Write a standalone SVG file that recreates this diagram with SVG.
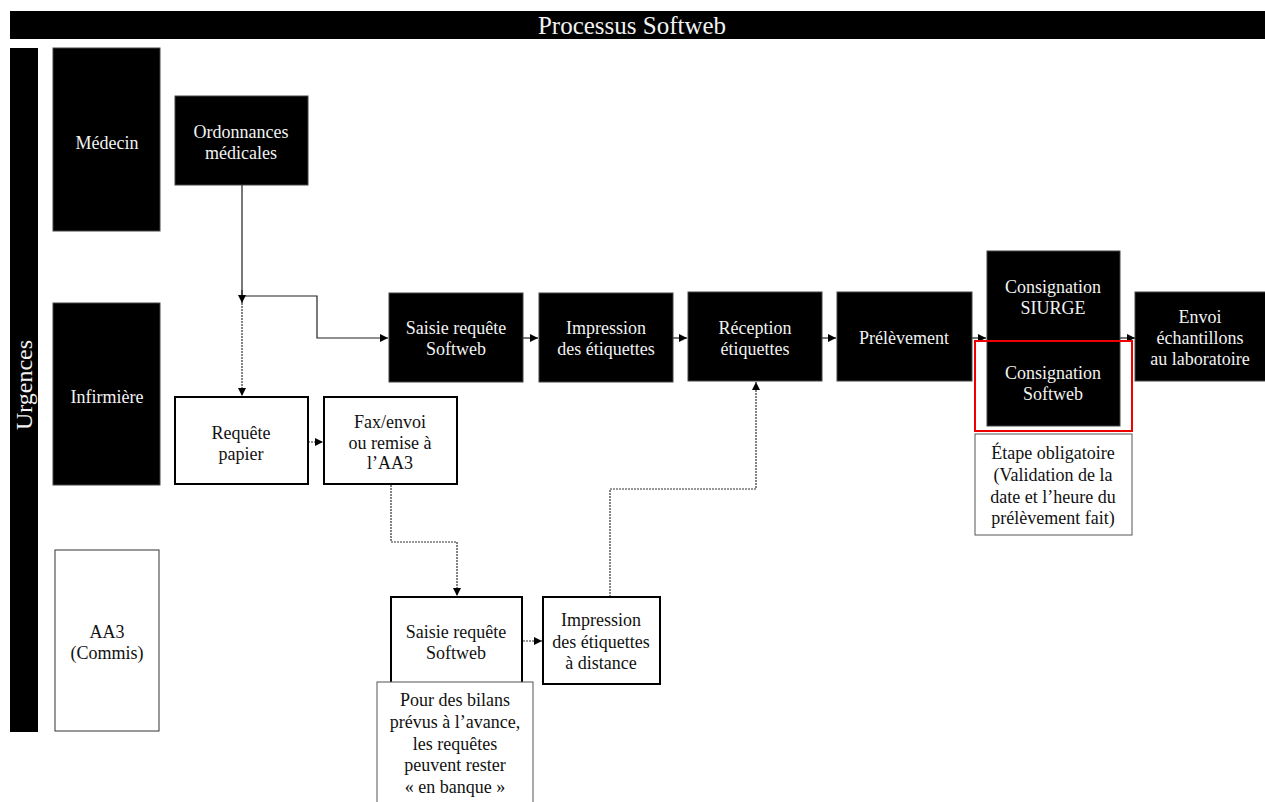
<svg xmlns="http://www.w3.org/2000/svg" width="1265" height="802" viewBox="0 0 1265 802" font-family="'Liberation Serif', 'Times New Roman', 'DejaVu Serif', serif">
<style>
text{font-family:'Liberation Serif','Times New Roman','DejaVu Serif',serif;font-size:18px;text-anchor:middle}
.w{fill:#f2f2f2}
.k{fill:#111}
.blk{fill:#000;stroke:#444;stroke-width:1}
.box{fill:#fff;stroke:#000;stroke-width:2}
.note{fill:#fff;stroke:#555;stroke-width:1}
.c{fill:none;stroke:#222;stroke-width:1.2}
.d{fill:none;stroke:#333;stroke-width:1.2;stroke-dasharray:2 1}
</style>
<defs>
<marker id="ah" markerUnits="userSpaceOnUse" markerWidth="9" markerHeight="9" refX="8" refY="4" orient="auto">
<path d="M0,0 L8,4 L0,8 z" fill="#000"/>
</marker>
</defs>
<rect width="1265" height="802" fill="#fff"/>
<g id="title">
<rect x="10" y="11" width="1255" height="28" fill="#000"/>
<text x="632" y="34" class="w" style="font-size:25px">Processus Softweb</text>
</g>
<g id="lane-urgences">
<rect x="10" y="48" width="28" height="684" fill="#000"/>
<text transform="translate(32,385) rotate(-90)" class="w" style="font-size:24px">Urgences</text>
</g>
<g id="lane-medecin">
<rect class="blk" x="53" y="48" width="107" height="183"/>
<text x="107" y="149" class="w">Médecin</text>
</g>
<g id="lane-infirmiere">
<rect class="blk" x="53" y="303" width="107" height="182"/>
<text x="107" y="403" class="w">Infirmière</text>
</g>
<g id="lane-aa3">
<rect x="55" y="550" width="104" height="181" fill="#fff" stroke="#333" stroke-width="1"/>
<text x="107" y="638" class="k">AA3</text>
<text x="107" y="659" class="k">(Commis)</text>
</g>
<g id="connectors">
<path class="c" d="M242,185 V296 H317 V338 H388" marker-end="url(#ah)"/>
<path class="c" d="M242,290 V303" marker-end="url(#ah)"/>
<path class="d" d="M242,303 V396" marker-end="url(#ah)"/>
<path class="c" d="M523,338 H538" marker-end="url(#ah)"/>
<path class="c" d="M673,338 H687" marker-end="url(#ah)"/>
<path class="c" d="M822,338 H836" marker-end="url(#ah)"/>
<path class="c" d="M972,338 H986" marker-end="url(#ah)"/>
<path class="c" d="M1120,338 H1135" marker-end="url(#ah)"/>
<path class="d" d="M308,442 H323" marker-end="url(#ah)"/>
<path class="d" d="M391,485 V542 H457 V596" marker-end="url(#ah)"/>
<path class="d" d="M523,641 H542" marker-end="url(#ah)"/>
<path class="d" d="M610,597 V489 H756 V382" marker-end="url(#ah)"/>
</g>
<g id="ordonnances">
<rect class="blk" x="175" y="96" width="133" height="89"/>
<text x="241" y="138" class="w">Ordonnances</text>
<text x="241" y="159" class="w">médicales</text>
</g>
<g id="saisie-softweb">
<rect class="blk" x="389" y="293" width="134" height="89"/>
<text x="456" y="334" class="w">Saisie requête</text>
<text x="456" y="355" class="w">Softweb</text>
</g>
<g id="impression-etiquettes">
<rect class="blk" x="539" y="293" width="134" height="89"/>
<text x="606" y="334" class="w">Impression</text>
<text x="606" y="355" class="w">des étiquettes</text>
</g>
<g id="reception-etiquettes">
<rect class="blk" x="688" y="292" width="134" height="89"/>
<text x="755" y="334" class="w">Réception</text>
<text x="755" y="355" class="w">étiquettes</text>
</g>
<g id="prelevement">
<rect class="blk" x="837" y="292" width="135" height="89"/>
<text x="904" y="344" class="w">Prélèvement</text>
</g>
<g id="consignation">
<rect class="blk" x="987" y="251" width="133" height="175"/>
<text x="1053" y="293" class="w">Consignation</text>
<text x="1053" y="314" class="w">SIURGE</text>
<text x="1053" y="379" class="w">Consignation</text>
<text x="1053" y="400" class="w">Softweb</text>
<rect x="975" y="341" width="157" height="90" fill="none" stroke="#e00" stroke-width="2"/>
</g>
<g id="etape-obligatoire">
<rect class="note" x="975" y="434" width="157" height="101"/>
<text x="1053" y="459" class="k">Étape obligatoire</text>
<text x="1053" y="481" class="k">(Validation de la</text>
<text x="1053" y="503" class="k">date et l’heure du</text>
<text x="1053" y="524" class="k">prélèvement fait)</text>
</g>
<g id="envoi">
<rect class="blk" x="1135" y="292" width="131" height="89"/>
<text x="1200" y="323" class="w">Envoi</text>
<text x="1200" y="344" class="w">échantillons</text>
<text x="1200" y="365" class="w">au laboratoire</text>
</g>
<g id="requete-papier">
<rect class="box" x="175" y="397" width="133" height="87"/>
<text x="241" y="439" class="k">Requête</text>
<text x="241" y="460" class="k">papier</text>
</g>
<g id="fax-envoi">
<rect class="box" x="324" y="397" width="133" height="87"/>
<text x="390" y="428" class="k">Fax/envoi</text>
<text x="390" y="449" class="k">ou remise à</text>
<text x="390" y="469" class="k">l’AA3</text>
</g>
<g id="saisie-softweb-aa3">
<rect class="box" x="391" y="597" width="131" height="88"/>
<text x="456" y="638" class="k">Saisie requête</text>
<text x="456" y="659" class="k">Softweb</text>
</g>
<g id="impression-distance">
<rect class="box" x="543" y="597" width="117" height="87"/>
<text x="601" y="626" class="k">Impression</text>
<text x="601" y="648" class="k">des étiquettes</text>
<text x="601" y="669" class="k">à distance</text>
</g>
<g id="note-banque">
<rect class="note" x="377" y="682" width="156" height="130"/>
<text x="455" y="706" class="k">Pour des bilans</text>
<text x="455" y="728" class="k">prévus à l’avance,</text>
<text x="455" y="750" class="k">les requêtes</text>
<text x="455" y="771" class="k">peuvent rester</text>
<text x="455" y="793" class="k">« en banque »</text>
</g>
</svg>
